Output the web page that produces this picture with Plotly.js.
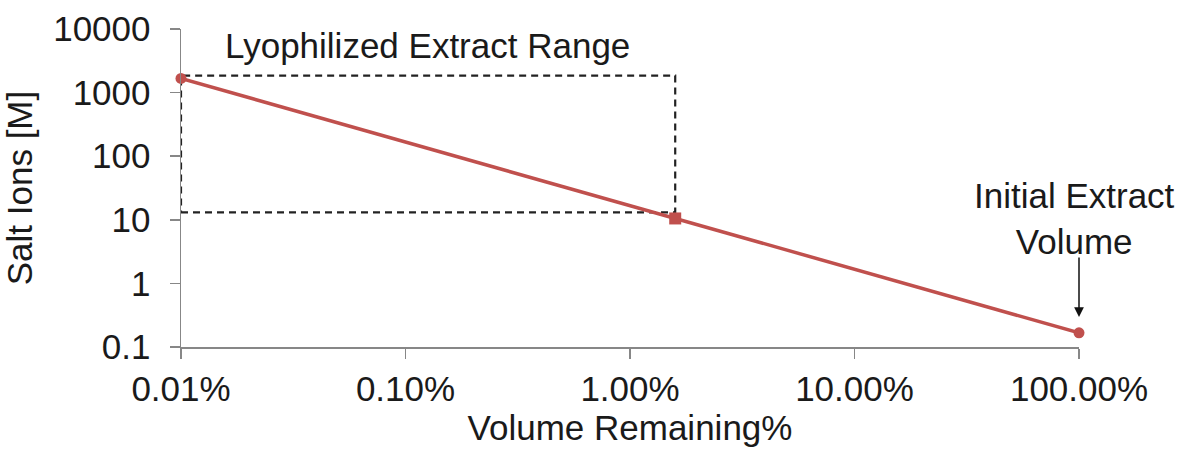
<!DOCTYPE html>
<html>
<head>
<meta charset="utf-8">
<script src="https://cdn.plot.ly/plotly-3.0.1.min.js"></script>
<style>
  html, body { margin: 0; padding: 0; background: #fff; }
  #chart { width: 1182px; height: 453px; }
</style>
</head>
<body>
<div id="chart"></div>
<script>
// Salt concentration as the extract volume is reduced (log-log)
const volumePct = [0.01, 100];          // volume remaining, %
const saltIons = [1670, 0.167];         // salt ions, M

// Working point at the edge of the lyophilized range
const pointPct = [1.59];
const pointSalt = [10.5];

// Lyophilized extract range box (volume %, salt M)
const rangePct = [0.01, 1.59];
const rangeSalt = [13.1, 1850];

// Arrow pointing at the initial extract volume
const arrowPct = [100];
const arrowSalt = [0.295];

// Axis ticks
const xTickVals = [0.01, 0.1, 1, 10, 100];
const xTickText = ['0.01%', '0.10%', '1.00%', '10.00%', '100.00%'];
const yTickVals = [0.1, 1, 10, 100, 1000, 10000];
const yTickText = ['0.1', '1', '10', '100', '1000', '10000'];

const red = '#c0504d';
const axisGrey = '#878787';
const font = { family: 'Liberation Sans, Arial, sans-serif', size: 35, color: '#1a1a1a' };

const traces = [
  {
    x: volumePct, y: saltIons, type: 'scatter', mode: 'lines+markers',
    line: { color: red, width: 3.5 },
    marker: { color: red, size: 11, symbol: 'circle' },
    hoverinfo: 'skip', cliponaxis: false
  },
  {
    x: pointPct, y: pointSalt, type: 'scatter', mode: 'markers',
    marker: { color: red, size: 12, symbol: 'square' },
    hoverinfo: 'skip', cliponaxis: false
  }
];

const log10 = Math.log10;

const layout = {
  width: 1182, height: 453,
  margin: { l: 181, r: 103, t: 28.5, b: 106 },
  paper_bgcolor: '#fff', plot_bgcolor: '#fff',
  showlegend: false,
  font: font,
  xaxis: {
    type: 'log', range: [log10(0.01), log10(100)],
    tickvals: xTickVals, ticktext: xTickText,
    showgrid: false, zeroline: false,
    showline: true, linecolor: axisGrey, linewidth: 1.5,
    ticks: 'outside', ticklen: 10, tickwidth: 1.5, tickcolor: axisGrey,
    tickfont: font, ticklabelstandoff: 0,
    title: { text: 'Volume Remaining%', font: font, standoff: 0 }
  },
  yaxis: {
    type: 'log', range: [log10(0.1), log10(10000)],
    tickvals: yTickVals, ticktext: yTickText,
    showgrid: false, zeroline: false,
    showline: true, linecolor: axisGrey, linewidth: 1.5,
    ticks: 'outside', ticklen: 10, tickwidth: 1.5, tickcolor: axisGrey,
    tickfont: font, ticklabelstandoff: 12,
    title: { text: 'Salt Ions [M]', font: font, standoff: 10 }
  },
  shapes: [
    {
      type: 'rect', xref: 'x', yref: 'y',
      x0: rangePct[0], x1: rangePct[1],
      y0: rangeSalt[0], y1: rangeSalt[1],
      line: { color: '#222', width: 2.2, dash: '7px,5px' },
      fillcolor: 'rgba(0,0,0,0)', layer: 'below'
    }
  ],
  annotations: [
    {
      text: 'Lyophilized Extract Range', xref: 'paper', yref: 'paper',
      x: 0.2745, y: 0.948, xanchor: 'center', yanchor: 'middle',
      showarrow: false, font: font
    },
    {
      text: 'Initial Extract<br>Volume', xref: 'paper', yref: 'paper',
      x: 0.9955, y: 0.405, xanchor: 'center', yanchor: 'middle',
      showarrow: false, font: font
    },
    {
      text: '', xref: 'x', yref: 'y',
      x: log10(arrowPct[0]), y: log10(arrowSalt[0]),
      showarrow: true, arrowhead: 2, arrowsize: 1.3, arrowwidth: 1.5,
      arrowcolor: '#111', ax: 0, ay: -61
    }
  ]
};

Plotly.newPlot('chart', traces, layout, { staticPlot: true, displayModeBar: false });
</script>
</body>
</html>
